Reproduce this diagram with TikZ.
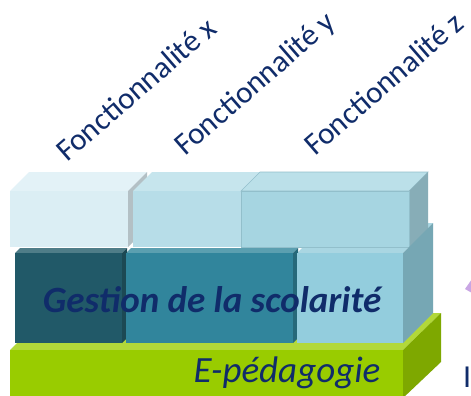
\documentclass[tikz,border=0pt]{standalone}
\usepackage{fontspec}
\setmainfont{Carlito}
\definecolor{navy}{HTML}{102C6A}
\definecolor{gfront}{HTML}{99CC00}
\definecolor{gtop}{HTML}{B2D83A}
\definecolor{gside}{HTML}{7EA800}
\definecolor{dfront}{HTML}{215968}
\definecolor{dtop}{HTML}{4F7D88}
\definecolor{dside}{HTML}{1C4954}
\definecolor{tfront}{HTML}{31859C}
\definecolor{ttop}{HTML}{5B9FB0}
\definecolor{tside}{HTML}{26697A}
\definecolor{lfront}{HTML}{93CDDD}
\definecolor{ltop}{HTML}{A9D6E2}
\definecolor{lside}{HTML}{76A7B4}
\definecolor{xfront}{HTML}{DBEEF4}
\definecolor{xtop}{HTML}{E3F2F7}
\definecolor{xside}{HTML}{B3C0C5}
\definecolor{yfront}{HTML}{B7DDE8}
\definecolor{ytop}{HTML}{C6E5ED}
\definecolor{zfront}{HTML}{A6D5E1}
\definecolor{ztop}{HTML}{BBE0E9}
\definecolor{zside}{HTML}{87ADB7}
\definecolor{zedge}{HTML}{92BFCB}
\definecolor{lav}{HTML}{C9A6E4}
\tikzset{
  functext/.style={text=navy, font=\fontsize{31}{36}\selectfont, rotate=41, anchor=base west, inner sep=0pt},
  layertext/.style={text=navy, font=\fontsize{37}{42}\selectfont\itshape, anchor=base, inner sep=0pt},
}
\begin{document}
\begin{tikzpicture}[x=1pt,y=-1pt]
\clip (0,0) rectangle (471,396);
\fill[white] (0,0) rectangle (471,396);
% green slab
\fill[gtop] (10,350) -- (48,313) -- (441,313) -- (403,350) -- cycle;
\fill[gside] (403,350) -- (441,313) -- (441,362) -- (403,398) -- cycle;
\fill[gfront] (10,350) rectangle (403,400);
% middle row top faces
\fill[dtop] (15,253) -- (20,248) -- (127,248) -- (122,253) -- cycle;
\fill[ttop] (126,253) -- (131,248) -- (298,248) -- (293,253) -- cycle;
\fill[ltop] (297,253) -- (327,223) -- (433,223) -- (403,253) -- cycle;
% top row
\fill[xtop] (10,191) -- (29,172) -- (147,172) -- (128,191) -- cycle;
\fill[xside] (128,191) -- (147,172) -- (147,228) -- (128,247) -- cycle;
\fill[xfront] (10,191) rectangle (128,247);
\fill[ytop] (133,191) -- (152,172) -- (260,172) -- (241,191) -- cycle;
\fill[yfront] (133,191) rectangle (241,247);
\filldraw[fill=ztop, draw=zedge, line width=0.6pt] (241,191) -- (260,172) -- (428,172) -- (409,191) -- cycle;
\fill[zside] (409,191) -- (428,172) -- (428,229) -- (409,248) -- cycle;
\filldraw[fill=zfront, draw=zedge, line width=0.6pt] (241,191) rectangle (409,247);
% middle row fronts and sides
\fill[dfront] (15,253) rectangle (122,343);
\fill[dside] (122,253) -- (127,248) -- (127,338) -- (122,343) -- cycle;
\fill[tfront] (126,253) rectangle (293,343);
\fill[tside] (293,253) -- (298,248) -- (298,338) -- (293,343) -- cycle;
\fill[lfront] (297,253) rectangle (403,343);
\fill[lside] (403,253) -- (433,223) -- (433,313) -- (403,343) -- cycle;
% partial elements at the right edge
\fill[lav] (465,289) -- (472,279) -- (472,293) -- cycle;
\node[text=navy, font=\fontsize{32}{36}\selectfont, anchor=base west, inner sep=0pt] (cut) at (463,387) {I};
% texts
\node[functext] (fx) at (67,163) {Fonctionnalité x};
\node[functext] (fy) at (185,157) {Fonctionnalité y};
\node[functext] (fz) at (315,157) {Fonctionnalité z};
\node[layertext, font=\fontsize{37}{42}\selectfont\bfseries\itshape] (gest) at (212,312) {Gestion de la scolarité};
\node[layertext] (epe) at (287,382) {E-pédagogie};
\end{tikzpicture}
\end{document}
